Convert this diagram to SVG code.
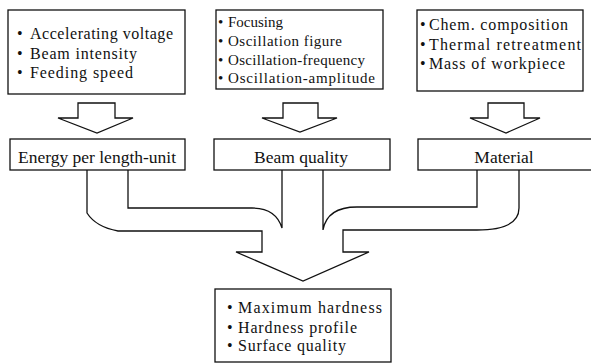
<svg xmlns="http://www.w3.org/2000/svg" width="591" height="363" viewBox="0 0 591 363">
<style>
.box{fill:#fff;stroke:#111;stroke-width:1.3}
.ln{fill:none;stroke:#111;stroke-width:1.3;stroke-linejoin:miter}
text{font-family:'Liberation Serif',serif;fill:#111}
.s15{font-size:15px}
.s16{font-size:16px}
.s17{font-size:17.5px}
</style>
<rect width="591" height="363" fill="#fff"/>
<g id="n-beam-params-1" font-family="Liberation Serif, serif">
<rect class="box" x="8" y="10" width="177" height="84"/>
<text class="s16" x="17" y="39">•</text><text class="s16" x="30" y="39" textLength="143">Accelerating voltage</text>
<text class="s16" x="17" y="59">•</text><text class="s16" x="30" y="59" textLength="107">Beam intensity</text>
<text class="s16" x="17" y="78">•</text><text class="s16" x="30" y="78" textLength="103">Feeding speed</text>
</g>
<g id="n-beam-params-2" font-family="Liberation Serif, serif">
<rect class="box" x="216" y="10" width="167" height="79"/>
<text class="s15" x="218" y="27">•</text><text class="s15" x="228" y="27">Focusing</text>
<text class="s15" x="218" y="46">•</text><text class="s15" x="228" y="46" textLength="114">Oscillation figure</text>
<text class="s15" x="218" y="65">•</text><text class="s15" x="228" y="65" textLength="137">Oscillation-frequency</text>
<text class="s15" x="218" y="83">•</text><text class="s15" x="228" y="83" textLength="147">Oscillation-amplitude</text>
</g>
<g id="n-material-params" font-family="Liberation Serif, serif">
<rect class="box" x="417" y="10" width="166" height="81"/>
<text class="s16" x="420" y="30">•</text><text class="s16" x="429" y="30" textLength="139">Chem. composition</text>
<text class="s16" x="420" y="50">•</text><text class="s16" x="429" y="50" textLength="152">Thermal retreatment</text>
<text class="s16" x="420" y="69">•</text><text class="s16" x="429" y="69" textLength="136">Mass of workpiece</text>
</g>
<g id="n-energy" font-family="Liberation Serif, serif">
<rect class="box" x="10" y="139" width="175" height="31"/>
<text class="s17" x="97" y="163" text-anchor="middle">Energy per length-unit</text>
</g>
<g id="n-beam-quality" font-family="Liberation Serif, serif">
<rect class="box" x="214" y="139" width="176" height="31"/>
<text class="s17" x="301" y="163" text-anchor="middle">Beam quality</text>
</g>
<g id="n-material" font-family="Liberation Serif, serif">
<rect class="box" x="418" y="139" width="180" height="31"/>
<text class="s17" x="504" y="163" text-anchor="middle">Material</text>
</g>
<g id="n-result" font-family="Liberation Serif, serif">
<rect class="box" x="215" y="289" width="176" height="73"/>
<text class="s16" x="227" y="313">•</text><text class="s16" x="238" y="313" textLength="144">Maximum hardness</text>
<text class="s16" x="227" y="333">•</text><text class="s16" x="238" y="333" textLength="119">Hardness profile</text>
<text class="s16" x="227" y="351">•</text><text class="s16" x="238" y="351" textLength="108">Surface quality</text>
</g>
<g id="connectors">
<path class="ln" d="M78,103 H115 V118 H133 L97,133 L58,118 H78 Z"/>
<path class="ln" d="M283,103 H318 V118 H337 L300,132 L262,118 H283 Z"/>
<path class="ln" d="M488,103 H524 V118 H540 L506,133 L470,118 H488 Z"/>
<path class="ln" d="M87,170 V213 Q96,227 118,231 H262 V252 H236 L303,281 L369,252 H343 V230 H477 Q519,230 519,208 V170"/>
<path class="ln" d="M477,170 V207 H357 Q327,207 323,230 V170"/>
<path class="ln" d="M282,170 V228 Q276,208 252,208 H128 V170"/>
</g>
</svg>
